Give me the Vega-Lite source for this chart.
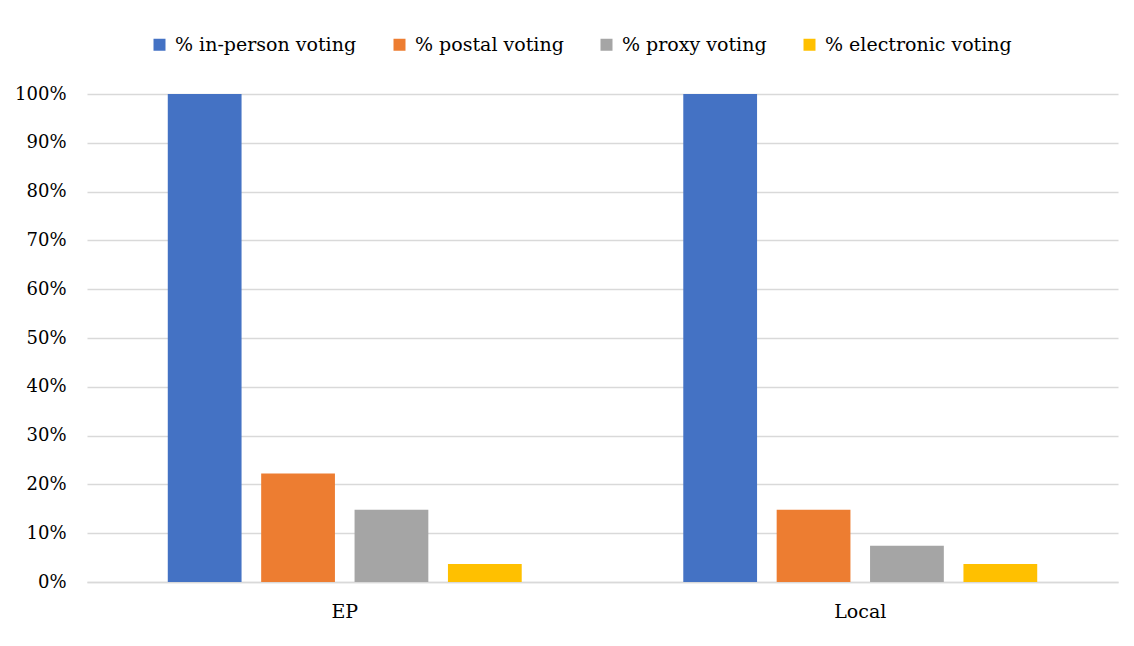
{
  "$schema": "https://vega.github.io/schema/vega-lite/v6.json",
  "autosize": {"type": "none"},
  "padding": {"left": 87, "top": 94, "right": 16, "bottom": 64},
  "width": 1031,
  "height": 488,
  "background": "white",
  "config": {
    "font": "DejaVu Serif",
    "view": {"stroke": null}
  },
  "data": {
    "values": [
      {"election": "EP", "method": "% in-person voting", "share": 1.0},
      {"election": "EP", "method": "% postal voting", "share": 0.2222},
      {"election": "EP", "method": "% proxy voting", "share": 0.1481},
      {"election": "EP", "method": "% electronic voting", "share": 0.037},
      {"election": "Local", "method": "% in-person voting", "share": 1.0},
      {"election": "Local", "method": "% postal voting", "share": 0.1481},
      {"election": "Local", "method": "% proxy voting", "share": 0.0741},
      {"election": "Local", "method": "% electronic voting", "share": 0.037}
    ]
  },
  "mark": {"type": "bar"},
  "encoding": {
    "x": {
      "field": "election",
      "type": "nominal",
      "sort": ["EP", "Local"],
      "scale": {"paddingInner": 0, "paddingOuter": 0},
      "axis": {
        "title": null,
        "labelAngle": 0,
        "labelFont": "DejaVu Serif",
        "labelFontSize": 19,
        "labelColor": "#000000",
        "labelPadding": 20,
        "ticks": false,
        "domainColor": "#d9d9d9",
        "domainWidth": 1.5
      }
    },
    "xOffset": {
      "field": "method",
      "type": "nominal",
      "sort": ["% in-person voting", "% postal voting", "% proxy voting", "% electronic voting"],
      "scale": {"paddingInner": 0.21, "paddingOuter": 0.865}
    },
    "y": {
      "field": "share",
      "type": "quantitative",
      "scale": {"domain": [0, 1], "nice": false},
      "axis": {
        "title": null,
        "format": ".0%",
        "values": [0, 0.1, 0.2, 0.3, 0.4, 0.5, 0.6, 0.7, 0.8, 0.9, 1.0],
        "labelFont": "DejaVu Serif",
        "labelFontSize": 18,
        "labelColor": "#000000",
        "labelPadding": 21,
        "ticks": false,
        "domain": false,
        "gridColor": "#d9d9d9",
        "gridWidth": 1.5
      }
    },
    "color": {
      "field": "method",
      "type": "nominal",
      "scale": {
        "domain": ["% in-person voting", "% postal voting", "% proxy voting", "% electronic voting"],
        "range": ["#4472C4", "#ED7D31", "#A5A5A5", "#FFC000"]
      },
      "legend": {
        "title": null,
        "orient": "none",
        "direction": "horizontal",
        "legendX": 63,
        "legendY": -59,
        "symbolType": "square",
        "symbolSize": 144,
        "symbolStrokeWidth": 0,
        "symbolOpacity": 1,
        "labelFont": "DejaVu Serif",
        "labelFontSize": 19,
        "labelLimit": 400,
        "labelColor": "#000000",
        "labelOffset": 6,
        "columnPadding": 33
      }
    }
  }
}
